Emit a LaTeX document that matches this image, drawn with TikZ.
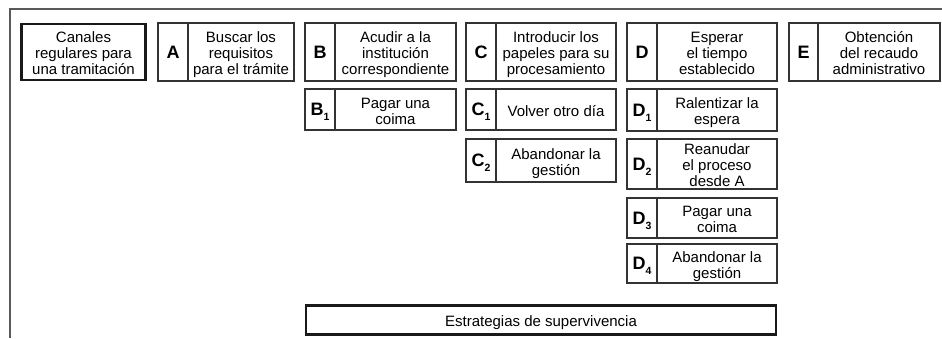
\documentclass[tikz,border=0pt]{standalone}
\usepackage{fontspec}
\setmainfont{Liberation Sans}
\newcommand\subx[1]{\smash{\raisebox{-5pt}{\fontsize{10.5}{10.5}\selectfont #1}}}
\newcommand\tx[1]{\raisebox{-3.4pt}[\height][\depth]{\begin{tabular}{@{}c@{}}#1\end{tabular}}}
% #1 name, #2 x1, #3 xd, #4 x2, #5 y1, #6 y2, #7 letter, #8 text
\newcommand\stepbx[8]{%
  \node[lettercell, minimum width={#3-#2}, minimum height={#6-#5}] (#1L) at ({(#2+#3)/2},{(#5+#6)/2}) {#7};
  \node[textcell, minimum width={#4-#3}, minimum height={#6-#5}] (#1T) at ({(#3+#4)/2},{(#5+#6)/2}) {\tx{#8}};}
\begin{document}
\begin{tikzpicture}[x=1pt,y=-1pt,
  cell/.style={draw=black!80, line width=1.1pt, inner sep=0pt, outer sep=0pt},
  lettercell/.style={cell, font=\fontsize{18}{18}\selectfont\bfseries},
  textcell/.style={cell, font=\fontsize{15}{16.3}\selectfont},
  thickbox/.style={draw=black!90, line width=2.6pt, inner sep=0pt, outer sep=0pt, font=\fontsize{15}{16.3}\selectfont},
  frame/.style={draw=black!65, line width=1.4pt}]
\useasboundingbox (0,0) rectangle (942,338);
\coordinate (ftr) at (942,9);
\coordinate (ftl) at (10,9);
\coordinate (fbl) at (10,338);
\draw[frame] (ftr) -- (ftl) -- (fbl);
\node[thickbox, minimum width=124.5, minimum height=56] (canales) at (83.5,52) {\tx{Canales\\regulares para\\una tramitación}};
\stepbx{a}{158}{188}{294}{23}{81}{A}{Buscar los\\requisitos\\para el trámite}
\stepbx{b}{305}{335}{456}{23}{81}{B}{Acudir a la\\institución\\correspondiente}
\stepbx{c}{466}{496}{616}{23}{81}{C}{Introducir los\\papeles para su\\procesamiento}
\stepbx{d}{627}{657}{777}{23}{81}{D}{Esperar\\el tiempo\\establecido}
\stepbx{e}{789}{818}{940}{23}{81}{E}{Obtención\\del recaudo\\administrativo}
\stepbx{bone}{305}{335}{456}{89}{130}{B\subx{1}}{Pagar una\\coima}
\stepbx{cone}{466}{496}{616}{89}{130}{C\subx{1}}{Volver otro día}
\stepbx{ctwo}{466}{496}{616}{139}{182}{C\subx{2}}{Abandonar la\\gestión}
\stepbx{done}{627}{657}{777}{89}{131}{D\subx{1}}{Ralentizar la\\espera}
\stepbx{dtwo}{627}{657}{777}{139}{189}{D\subx{2}}{Reanudar\\el proceso\\desde A}
\stepbx{dthree}{627}{657}{777}{198}{238}{D\subx{3}}{Pagar una\\coima}
\stepbx{dfour}{627}{657}{777}{244}{283}{D\subx{4}}{Abandonar la\\gestión}
\node[thickbox, minimum width=470, minimum height=28.5] (estr) at (541,320) {\tx{Estrategias de supervivencia}};
\end{tikzpicture}
\end{document}
